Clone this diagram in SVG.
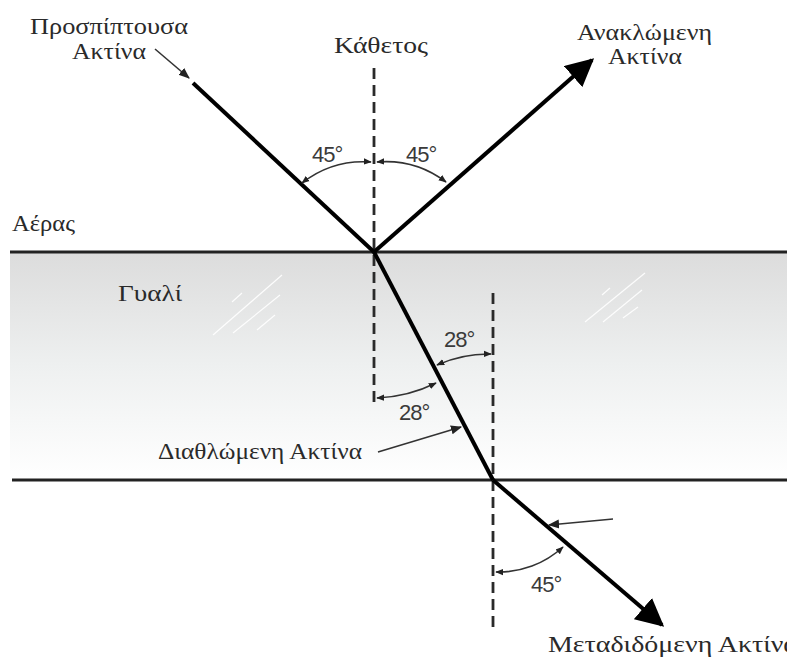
<svg xmlns="http://www.w3.org/2000/svg" width="787" height="657" viewBox="0 0 787 657">
<defs>
<linearGradient id="glass" x1="0" y1="0" x2="0" y2="1">
<stop offset="0" stop-color="#dcdcdc"/>
<stop offset="0.5" stop-color="#eef0f0"/>
<stop offset="1" stop-color="#ffffff"/>
</linearGradient>
<marker id="big" viewBox="0 0 10 10" refX="9" refY="5" markerWidth="7" markerHeight="7" markerUnits="strokeWidth" orient="auto"><path d="M0,0 L10,5 L0,10 z" fill="#000"/></marker>
<marker id="small" viewBox="0 0 10 10" refX="9" refY="5" markerWidth="5" markerHeight="5" markerUnits="strokeWidth" orient="auto-start-reverse"><path d="M0,1 L10,5 L0,9 z" fill="#222"/></marker>
<marker id="ptr" viewBox="0 0 10 10" refX="9" refY="5" markerWidth="7" markerHeight="7" markerUnits="strokeWidth" orient="auto"><path d="M0,1 L10,5 L0,9 z" fill="#222"/></marker>
</defs>
<style>
.serif{font-family:"Liberation Serif","DejaVu Serif",serif;fill:#2a2a2a;font-size:23px}
.deg{font-family:"Liberation Sans",Arial,sans-serif;fill:#3a3a3a;font-size:22px;letter-spacing:-1px}
.iface{stroke:#222;stroke-width:3;fill:none}
.normal{stroke:#2a2a2a;stroke-width:2.8;stroke-dasharray:11 6;fill:none}
.ray{stroke:#000;stroke-width:4;fill:none}
.arc{stroke:#333;stroke-width:1.6;fill:none}
.ptr{stroke:#333;stroke-width:1.6;fill:none}
.glint{stroke:#fff;stroke-width:1.2;fill:none;opacity:0.9}
</style>
<rect width="787" height="657" fill="#fff"/>
<g id="glass-block">
<rect x="10" y="252" width="777" height="228" fill="url(#glass)"/>
<line class="iface" x1="10" y1="252" x2="787" y2="252"/>
<line class="iface" x1="12" y1="480" x2="787" y2="480"/>
<g id="glints">
<line class="glint" x1="213" y1="335" x2="282" y2="275"/>
<line class="glint" x1="233" y1="333" x2="280" y2="295"/>
<line class="glint" x1="257" y1="330" x2="275" y2="315"/>
<line class="glint" x1="232" y1="302" x2="242" y2="293"/>
<line class="glint" x1="585" y1="322" x2="645" y2="273"/>
<line class="glint" x1="603" y1="322" x2="642" y2="290"/>
<line class="glint" x1="623" y1="318" x2="638" y2="307"/>
<line class="glint" x1="602" y1="295" x2="610" y2="288"/>
</g>
</g>
<g id="connectors">
<line class="normal" x1="374" y1="68" x2="374" y2="408"/>
<line class="normal" x1="493" y1="293" x2="493" y2="628"/>
<line class="ray" x1="193" y1="83" x2="374" y2="252"/>
<line class="ray" x1="374" y1="252" x2="592" y2="60" marker-end="url(#big)"/>
<line class="ray" x1="374" y1="252" x2="493" y2="480"/>
<line class="ray" x1="493" y1="480" x2="662" y2="625" marker-end="url(#big)"/>
<path class="arc" d="M302,183 A100,100 0 0 1 371,162" marker-start="url(#small)" marker-end="url(#small)"/>
<path class="arc" d="M377,162 A100,100 0 0 1 446,182" marker-start="url(#small)" marker-end="url(#small)"/>
<path class="arc" d="M437,365 A127,127 0 0 1 491,354" marker-start="url(#small)" marker-end="url(#small)"/>
<path class="arc" d="M377,398 A145,145 0 0 0 436,383" marker-start="url(#small)" marker-end="url(#small)"/>
<path class="arc" d="M563,547 A95,95 0 0 1 496,572" marker-start="url(#small)" marker-end="url(#small)"/>
<line class="ptr" x1="155" y1="49" x2="189" y2="78" marker-end="url(#ptr)"/>
<line class="ptr" x1="378" y1="452" x2="461" y2="427" marker-end="url(#ptr)"/>
<line class="ptr" x1="613" y1="519" x2="549" y2="525" marker-end="url(#ptr)"/>
</g>
<g id="labels">
<text class="serif" x="30" y="34" textLength="158" lengthAdjust="spacingAndGlyphs">Προσπίπτουσα</text>
<text class="serif" x="72" y="59" textLength="74" lengthAdjust="spacingAndGlyphs">Ακτίνα</text>
<text class="serif" x="334" y="53" textLength="94" lengthAdjust="spacingAndGlyphs">Κάθετος</text>
<text class="serif" x="577" y="40" textLength="135" lengthAdjust="spacingAndGlyphs">Ανακλώμενη</text>
<text class="serif" x="608" y="64" textLength="74" lengthAdjust="spacingAndGlyphs">Ακτίνα</text>
<text class="serif" x="12" y="231" textLength="63" lengthAdjust="spacingAndGlyphs">Αέρας</text>
<text class="serif" x="118" y="301" textLength="64" lengthAdjust="spacingAndGlyphs">Γυαλί</text>
<text class="serif" x="158" y="459" textLength="204" lengthAdjust="spacingAndGlyphs">Διαθλώμενη Ακτίνα</text>
<text class="serif" x="548" y="652" textLength="250" lengthAdjust="spacingAndGlyphs">Μεταδιδόμενη Ακτίνα</text>
<text class="deg" x="312" y="162">45°</text>
<text class="deg" x="406" y="162">45°</text>
<text class="deg" x="444" y="347">28°</text>
<text class="deg" x="399" y="420">28°</text>
<text class="deg" x="531" y="592">45°</text>
</g>
</svg>
